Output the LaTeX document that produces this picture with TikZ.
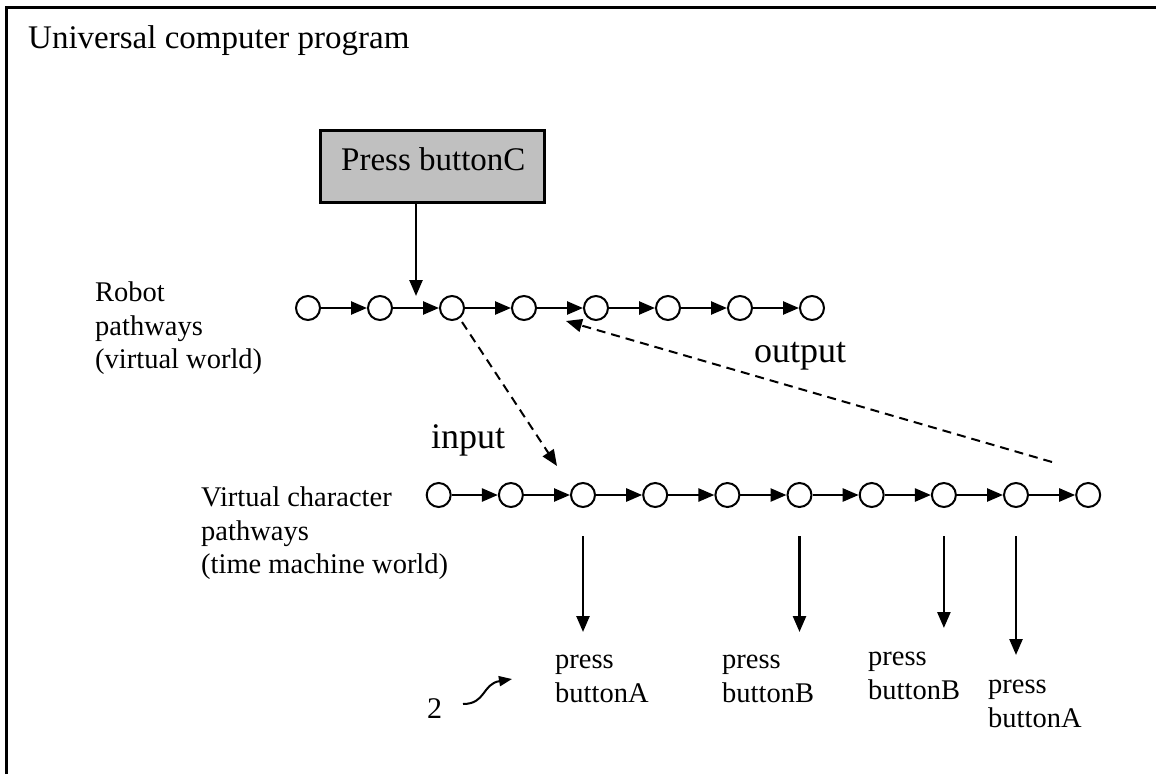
\documentclass[tikz,border=0pt]{standalone}
\usepackage{fontspec}
\setmainfont{Liberation Serif}
\usetikzlibrary{arrows.meta}
\definecolor{boxgray}{RGB}{192,192,192}
\begin{document}
\begin{tikzpicture}[x=1pt,y=-1pt,
  title/.style={font=\fontsize{33}{38}\selectfont, inner sep=0pt},
  io/.style={font=\fontsize{36}{41}\selectfont, inner sep=0pt},
  small/.style={font=\fontsize{28.5}{33.5}\selectfont, align=left, inner sep=0pt},
  state/.style={circle, draw, line width=2pt, minimum size=24pt, inner sep=0pt},
  flow/.style={line width=2.5pt, -{Triangle[length=16pt,width=13pt]}},
  dashflow/.style={line width=2pt, dash pattern=on 9pt off 6pt, -{Triangle[length=16pt,width=13pt]}},
]
\useasboundingbox (0,0) rectangle (1156,774);

% frame
\draw[line width=3pt] (6,774) -- (6,7) -- (1156,7);
\node[title, anchor=base west] (ttl) at (28,48) {Universal computer program};

% control box
\node[draw, fill=boxgray, line width=2.5pt, minimum width=224pt, minimum height=72pt,
      anchor=north west] (btnC) at (319,129) {};
\node[title, anchor=base west] (btnCtext) at (341,170) {Press buttonC};

% robot pathways
\foreach \i/\x in {1/308,2/380,3/452,4/524,5/596,6/668,7/740,8/812}
  \node[state] (t\i) at (\x,308) {};
\foreach \i [evaluate=\i as \j using int(\i+1)] in {1,...,7}
  \draw[flow] (t\i) -- (t\j);
\node[small, anchor=north west] (robotlbl) at (95,282) {Robot\\pathways\\(virtual world)};

\coordinate (cTip) at (416,296);
\draw[flow] (btnC.south -| cTip) -- (cTip);

% virtual character pathways
\foreach \i/\x in {1/438.7,2/510.9,3/583,4/655.2,5/727.4,6/799.5,7/871.7,8/943.9,9/1016,10/1088.2}
  \node[state] (v\i) at (\x,495) {};
\foreach \i [evaluate=\i as \j using int(\i+1)] in {1,...,9}
  \draw[flow] (v\i) -- (v\j);
\node[small, anchor=north west] (vclbl) at (201,487) {Virtual character\\pathways\\(time machine world)};

% input / output
\coordinate (inStart) at (462,322);
\coordinate (inEnd) at (557,466);
\draw[dashflow] (inStart) -- (inEnd);
\node[io] (inlbl) at (468,440) {input};

\coordinate (outStart) at (1052,462);
\coordinate (outEnd) at (566,321);
\draw[dashflow] (outStart) -- (outEnd);
\node[io] (outlbl) at (800,356) {output};

% button presses
\node[small, anchor=north west] (pA1) at (555,655) {press\\buttonA};
\node[small, anchor=north west] (pB1) at (722,655) {press\\buttonB};
\node[small, anchor=north west] (pB2) at (868,652) {press\\buttonB};
\node[small, anchor=north west] (pA2) at (988,680) {press\\buttonA};

\coordinate (a1s) at (583,536);    \coordinate (a1e) at (583,632);
\coordinate (a2s) at (799.5,536);  \coordinate (a2e) at (799.5,632);
\coordinate (a3s) at (943.9,536);  \coordinate (a3e) at (943.9,628);
\coordinate (a4s) at (1016,536);   \coordinate (a4e) at (1016,655);
\draw[flow] (a1s) -- (a1e);
\draw[flow] (a2s) -- (a2e);
\draw[flow] (a3s) -- (a3e);
\draw[flow] (a4s) -- (a4e);

% footnote marker
\node[font=\fontsize{30}{34}\selectfont, inner sep=0pt, anchor=base west] (two) at (427,718) {2};
\coordinate (cs) at (463,704);
\coordinate (ce) at (512,679);
\draw[line width=2pt, -{Triangle[length=13pt,width=10pt]}]
  (cs) .. controls (486,704) and (482,684) .. (ce);
\end{tikzpicture}
\end{document}
